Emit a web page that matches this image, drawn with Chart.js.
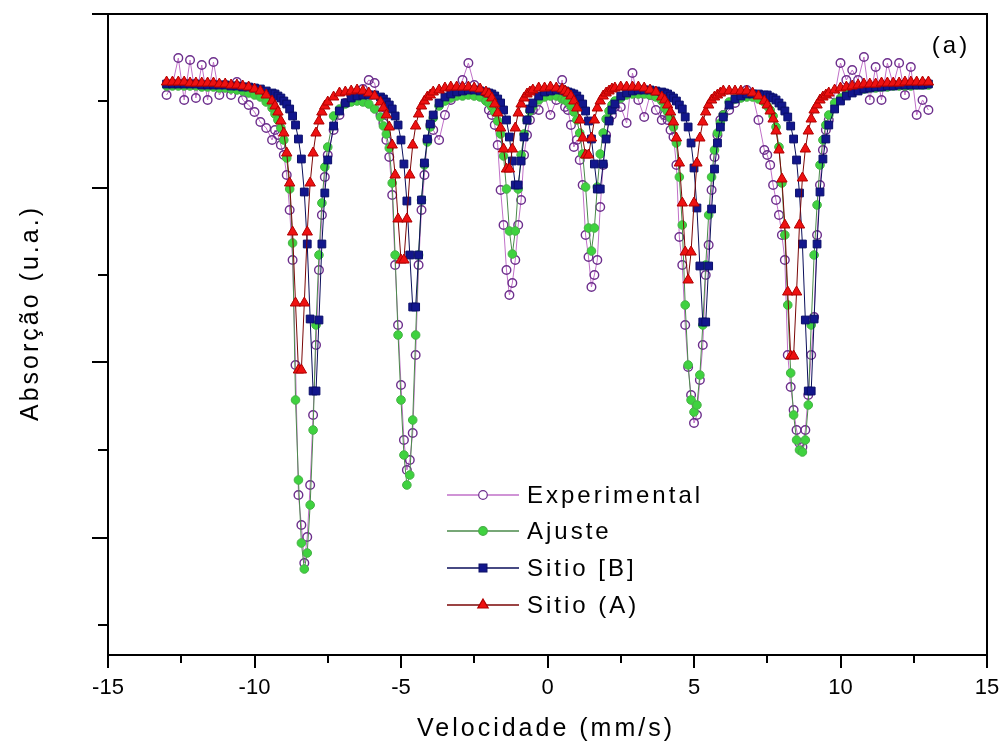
<!DOCTYPE html>
<html>
<head>
<meta charset="utf-8">
<script src="https://cdn.jsdelivr.net/npm/chart.js@4.4.1/dist/chart.umd.min.js"></script>
<style>
  html, body { margin: 0; padding: 0; background: #fff; }
  #wrap { width: 1001px; height: 747px; }
</style>
</head>
<body>
<div id="wrap"><canvas id="chart" width="1001" height="747"></canvas></div>
<script>
// velocity grid (mm/s), denser inside the six absorption lines
const velocity = [
  -13.0, -12.8, -12.6, -12.4, -12.2, -12.0, -11.8, -11.6, -11.4, -11.2, -11.0, -10.8, -10.6, -10.4, -10.2, -10.0, -9.8, -9.6, -9.4,
  -9.3, -9.2, -9.1, -9.0, -8.9, -8.8, -8.7, -8.6, -8.5, -8.4, -8.3, -8.2, -8.1, -8.0, -7.9, -7.8, -7.7, -7.6, -7.5,
  -7.3, -7.1, -6.9, -6.7, -6.5, -6.3, -6.1, -5.9, -5.7,
  -5.6, -5.5, -5.4, -5.3, -5.2, -5.1, -5.0, -4.9, -4.8, -4.7, -4.6, -4.5, -4.4, -4.3, -4.2, -4.1, -4.0, -3.9,
  -3.7, -3.5, -3.3, -3.1, -2.9, -2.7, -2.5, -2.3, -2.1,
  -2.0, -1.9, -1.8, -1.7, -1.6, -1.5, -1.4, -1.3, -1.2, -1.1, -1.0, -0.9, -0.8, -0.7, -0.6, -0.5,
  -0.3, -0.1, 0.1, 0.3, 0.5,
  0.6, 0.7, 0.8, 0.9, 1.0, 1.1, 1.2, 1.3, 1.4, 1.5, 1.6, 1.7, 1.8, 1.9, 2.0, 2.1, 2.2, 2.3,
  2.5, 2.7, 2.9, 3.1, 3.3, 3.5, 3.7, 3.9,
  4.0, 4.1, 4.2, 4.3, 4.4, 4.5, 4.6, 4.7, 4.8, 4.9, 5.0, 5.1, 5.2, 5.3, 5.4, 5.5, 5.6, 5.7, 5.8, 5.9, 6.0,
  6.2, 6.4, 6.6, 6.8, 7.0, 7.2, 7.4,
  7.5, 7.6, 7.7, 7.8, 7.9, 8.0, 8.1, 8.2, 8.3, 8.4, 8.5, 8.6, 8.7, 8.8, 8.9, 9.0, 9.1, 9.2, 9.3, 9.4, 9.5, 9.6,
  9.8, 10.0, 10.2, 10.4, 10.6, 10.8, 11.0, 11.2, 11.4, 11.6, 11.8, 12.0, 12.2, 12.4, 12.6, 12.8, 13.0
];

const experimental = [
  560, 570, 597, 555, 595, 557, 590, 555, 593, 560, 570, 560, 573, 555, 550, 543, 533, 527, 515,
  525, 520, 510, 500, 480, 445, 395, 290, 160, 130, 92, 118, 170, 240, 310, 385, 440, 478, 500,
  525, 540, 552, 560, 555, 566, 575, 572, 540,
  532, 515, 498, 460, 390, 330, 270, 215, 185, 195, 222, 300, 390, 445, 480, 515, 530, 525,
  515, 540, 555, 565, 575, 592, 570, 560, 555,
  545, 540, 530, 510, 465, 430, 385, 360, 372, 395, 430, 455, 500, 520, 535, 545,
  545, 560, 540, 555, 575,
  548, 545, 530, 508, 515, 495, 470, 420, 398, 368, 380, 395, 448, 490, 520, 535, 540, 548,
  548, 532, 582, 555, 538, 560, 545, 535,
  540, 535, 525, 518, 490, 418, 390, 330, 288, 260, 232, 240, 275, 310, 380, 410, 465, 498, 520, 535, 540,
  545, 552, 558, 565, 560, 535, 505,
  500, 490, 470, 455, 440, 420, 395, 300, 268, 245, 225, 212, 208, 225, 260, 300, 338, 420, 470, 505, 525, 535,
  560, 592, 575, 585, 575, 598, 555, 588, 555, 592, 570, 592, 560, 588, 540, 555, 545
];

const ajuste = [
  569, 569, 569, 569, 569, 569, 568, 568, 568, 567, 567, 566, 565, 564, 562, 560, 558, 553, 547,
  541, 535, 527, 515, 497, 466, 412, 255, 175, 112, 86, 102, 150, 225, 330, 400, 452, 488, 508,
  539, 546, 551, 553, 554, 553, 551, 546, 538,
  529, 521, 507, 472, 400, 320, 255, 200, 170, 180, 235, 320, 400, 455, 490, 513, 528, 537,
  549, 554, 557, 559, 559, 560, 559, 558, 554,
  552, 548, 543, 534, 521, 499, 466, 424, 401, 424, 466, 500, 521, 535, 544, 549,
  555, 558, 559, 559, 556,
  555, 553, 549, 543, 535, 522, 501, 468, 427, 404, 427, 468, 501, 522, 536, 544, 550, 554,
  557, 560, 561, 561, 561, 560, 558, 554,
  547, 543, 537, 528, 512, 478, 430, 350, 290, 255, 243, 250, 280, 330, 390, 440, 478, 505, 522, 532, 540,
  553, 556, 557, 558, 558, 556, 553,
  549, 545, 539, 528, 508, 472, 420, 350, 282, 240, 215, 205, 203, 215, 250, 330, 400, 450, 490, 515, 530, 540,
  552, 557, 561, 563, 565, 566, 567, 567, 568, 568, 569, 569, 569, 569, 570, 570, 570
];

const sitioB = [
  571, 571, 571, 571, 571, 571, 570, 570, 570, 570, 570, 569, 569, 568, 568, 567, 566, 564, 562,
  561, 559, 557, 554, 551, 546, 539, 530, 516, 496, 463, 411, 336, 264, 264, 335, 411, 462, 495,
  529, 544, 552, 557, 559, 560, 560, 560, 558,
  556, 553, 550, 546, 539, 530, 515, 491, 454, 400, 348, 348, 400, 455, 492, 516, 531, 540,
  552, 558, 561, 563, 564, 565, 565, 564, 563,
  562, 561, 559, 556, 552, 545, 535, 518, 494, 470, 470, 494, 518, 535, 546, 552,
  559, 563, 564, 565, 565,
  564, 563, 562, 561, 559, 556, 551, 544, 534, 516, 491, 466, 466, 491, 516, 534, 545, 551,
  559, 562, 564, 565, 565, 565, 564, 563,
  562, 561, 559, 557, 554, 550, 546, 538, 528, 512, 487, 447, 389, 333, 333, 389, 446, 486, 512, 528, 538,
  550, 556, 559, 561, 561, 561, 560,
  560, 558, 557, 555, 552, 549, 544, 538, 529, 516, 495, 462, 411, 335, 264, 264, 336, 411, 463, 496, 516, 530,
  546, 554, 559, 562, 564, 566, 567, 568, 568, 569, 569, 570, 570, 570, 570, 570, 571
];

const sitioA = [
  573, 573, 573, 573, 572, 572, 572, 572, 572, 571, 571, 570, 570, 569, 568, 566, 564, 560, 554,
  549, 543, 534, 522, 502, 472, 423, 352, 285, 285, 352, 423, 472, 502, 522, 534, 543, 549, 553,
  558, 562, 563, 564, 565, 564, 562, 559, 553,
  547, 540, 528, 510, 480, 436, 395, 395, 436, 480, 510, 529, 541, 549, 554, 558, 560, 563,
  565, 567, 568, 568, 568, 568, 567, 566, 563,
  561, 557, 551, 542, 527, 506, 486, 486, 506, 527, 542, 551, 557, 561, 563, 565,
  567, 567, 568, 567, 566,
  564, 562, 559, 554, 547, 535, 517, 500, 500, 517, 535, 547, 554, 559, 562, 564, 566, 567,
  568, 568, 568, 568, 567, 565, 563, 558,
  555, 550, 543, 533, 517, 492, 452, 403, 375, 403, 452, 492, 517, 533, 543, 550, 555, 558, 560, 562, 564,
  564, 564, 564, 564, 562, 559, 554,
  550, 544, 536, 524, 505, 476, 430, 363, 299, 299, 363, 430, 477, 506, 524, 536, 545, 550, 555, 558, 560, 562,
  565, 567, 568, 569, 570, 571, 571, 571, 572, 572, 572, 572, 573, 573, 573, 573, 573
];

const xMajorTicks = [-15, -10, -5, 0, 5, 10, 15];
const xMinorTicks = [-12.5, -7.5, -2.5, 2.5, 7.5, 12.5];
const yMajorTicks = [117.5, 292.5, 467.5, 641];
const yMinorTicks = [30, 205, 380, 554.5];

const FONT = '"Liberation Sans", Arial, sans-serif';

function toPoints(values) {
  return values.map((v, i) => ({ x: velocity[i], y: v }));
}

function drawMarker(ctx, style, x, y, r, fill, stroke) {
  ctx.beginPath();
  if (style === 'circle') {
    ctx.arc(x, y, r, 0, Math.PI * 2);
  } else if (style === 'rect') {
    const s = r / Math.SQRT2;
    ctx.rect(x - s, y - s, 2 * s, 2 * s);
  } else {
    ctx.moveTo(x, y - r);
    ctx.lineTo(x + r * 0.866, y + r / 2);
    ctx.lineTo(x - r * 0.866, y + r / 2);
    ctx.closePath();
  }
  ctx.fillStyle = fill;
  ctx.fill();
  ctx.lineWidth = 1.2;
  ctx.strokeStyle = stroke;
  ctx.stroke();
}

// first dataset is drawn on top
const datasets = [
  {
    label: 'Sitio (A)', data: toPoints(sitioA), showLine: true,
    borderColor: '#7a0606', borderWidth: 1,
    pointStyle: 'triangle', pointRadius: 6,
    pointBackgroundColor: '#ee1111', pointBorderColor: '#b00000', pointBorderWidth: 1
  },
  {
    label: 'Sitio [B]', data: toPoints(sitioB), showLine: true,
    borderColor: '#0a0e5a', borderWidth: 1,
    pointStyle: 'rect', pointRadius: 5.5,
    pointBackgroundColor: '#12168c', pointBorderColor: '#0a0e6a', pointBorderWidth: 1
  },
  {
    label: 'Ajuste', data: toPoints(ajuste), showLine: true,
    borderColor: '#4a8a4a', borderWidth: 1,
    pointStyle: 'circle', pointRadius: 4.3,
    pointBackgroundColor: '#3fd23f', pointBorderColor: '#46b046', pointBorderWidth: 1
  },
  {
    label: 'Experimental', data: toPoints(experimental), showLine: true,
    borderColor: '#c070c8', borderWidth: 1,
    pointStyle: 'circle', pointRadius: 4.3,
    pointBackgroundColor: 'rgba(0,0,0,0)', pointBorderColor: '#6c2e8c', pointBorderWidth: 1.4
  }
];

const legendOrder = [3, 2, 1, 0];

const framePlugin = {
  id: 'frame',
  afterDraw(chart) {
    const { ctx, chartArea: area, scales } = chart;
    const x = scales.x, y = scales.y;
    ctx.save();
    ctx.strokeStyle = '#000';
    ctx.lineWidth = 2;
    ctx.strokeRect(area.left, area.top, area.right - area.left, area.bottom - area.top);
    ctx.beginPath();
    xMajorTicks.forEach(v => {
      const p = Math.round(x.getPixelForValue(v));
      ctx.moveTo(p, area.bottom); ctx.lineTo(p, area.bottom + 13);
    });
    xMinorTicks.forEach(v => {
      const p = Math.round(x.getPixelForValue(v));
      ctx.moveTo(p, area.bottom); ctx.lineTo(p, area.bottom + 8);
    });
    yMajorTicks.forEach(v => {
      const p = Math.round(y.getPixelForValue(v));
      ctx.moveTo(area.left, p); ctx.lineTo(area.left - 16, p);
    });
    yMinorTicks.forEach(v => {
      const p = Math.round(y.getPixelForValue(v));
      ctx.moveTo(area.left, p); ctx.lineTo(area.left - 10, p);
    });
    ctx.stroke();

    // axis titles and panel label
    ctx.fillStyle = '#000';
    ctx.textAlign = 'center';
    ctx.textBaseline = 'middle';
    ctx.font = '25px ' + FONT;
    ctx.letterSpacing = '3px';
    ctx.fillText('Velocidade (mm/s)', 546, 729);
    ctx.save();
    ctx.translate(31, 313);
    ctx.rotate(-Math.PI / 2);
    ctx.fillText('Absorção (u.a.)', 0, 0);
    ctx.restore();
    ctx.font = '24px ' + FONT;
    ctx.fillText('(a)', 951, 46);

    // legend inside the plot
    const rows = [495, 531, 568, 605];
    ctx.textAlign = 'left';
    ctx.font = '24px ' + FONT;
    legendOrder.forEach((di, k) => {
      const ds = datasets[di];
      const ry = rows[k];
      ctx.beginPath();
      ctx.strokeStyle = ds.borderColor;
      ctx.lineWidth = 1.5;
      ctx.moveTo(447, ry); ctx.lineTo(519, ry);
      ctx.stroke();
      drawMarker(ctx, ds.pointStyle, 483, ry, ds.pointRadius, ds.pointBackgroundColor === 'rgba(0,0,0,0)' ? '#fff' : ds.pointBackgroundColor, ds.pointBorderColor);
      ctx.fillStyle = '#000';
      ctx.fillText(ds.label, 527, ry + 1);
    });
    ctx.restore();
  }
};

new Chart(document.getElementById('chart').getContext('2d'), {
  type: 'scatter',
  data: { datasets: datasets },
  options: {
    responsive: false,
    devicePixelRatio: 1,
    animation: false,
    layout: { padding: { top: 14, right: 14, left: 0, bottom: 0 } },
    plugins: { legend: { display: false }, tooltip: { enabled: false } },
    elements: { line: { tension: 0 } },
    scales: {
      x: {
        type: 'linear', min: -15, max: 15,
        grid: { display: false, drawTicks: false },
        border: { display: false },
        ticks: {
          stepSize: 5, padding: 20, color: '#000',
          font: { family: FONT, size: 22 }
        },
        afterFit(scale) {
          scale.height = 92;
          scale.paddingLeft = 0;
          scale.paddingRight = 0;
        }
      },
      y: {
        min: 0, max: 641,
        grid: { display: false, drawTicks: false },
        border: { display: false },
        ticks: { display: false },
        afterFit(scale) { scale.width = 108; }
      }
    }
  },
  plugins: [framePlugin]
});
</script>
</body>
</html>
